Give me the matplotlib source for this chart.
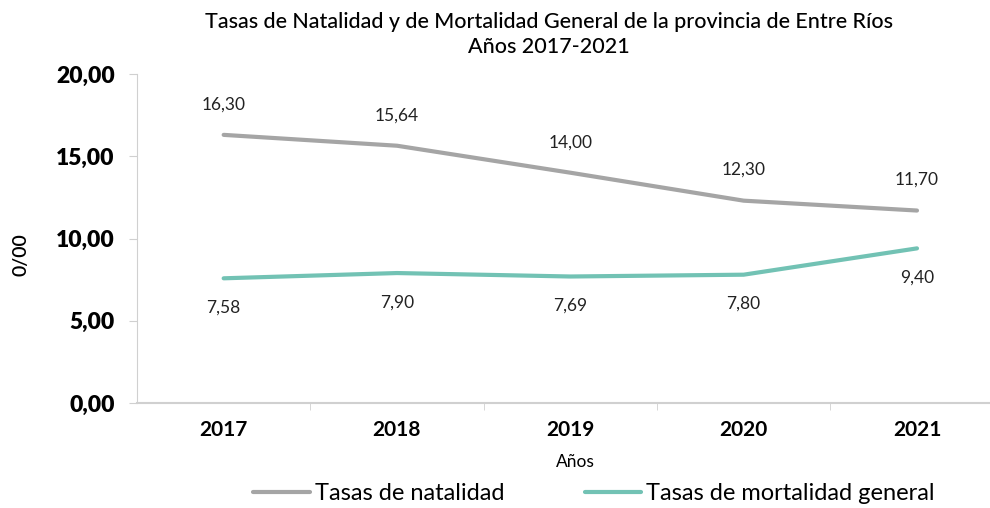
import matplotlib
matplotlib.use("Agg")
import matplotlib.pyplot as plt
from matplotlib import font_manager as fm

years = ["2017", "2018", "2019", "2020", "2021"]
natalidad = [16.30, 15.64, 14.00, 12.30, 11.70]
mortalidad = [7.58, 7.90, 7.69, 7.80, 9.40]
yticks = [0, 5, 10, 15, 20]

names = {f.name for f in fm.fontManager.ttflist}
base = "Lato" if "Lato" in names else "DejaVu Sans"
narrow = "Liberation Sans Narrow" if "Liberation Sans Narrow" in names else base
plt.rcParams['font.family'] = [base, "DejaVu Sans"]

GRAY = "#A5A5A5"
TEAL = "#72C2B4"

fig = plt.figure(figsize=(9.9, 5.08), dpi=100)
W, H = 990, 508
ax = fig.add_axes([137 / W, 1 - 403 / H, (990 - 137) / W, (403 - 74) / H])
x = list(range(len(years)))
ax.plot(x, natalidad, color=GRAY, lw=3, solid_capstyle="round", label="Tasas de natalidad")
ax.plot(x, mortalidad, color=TEAL, lw=3, solid_capstyle="round", label="Tasas de mortalidad general")

for i, v in enumerate(natalidad):
    ax.annotate(f"{v:.2f}".replace(".", ","), (i, v), xytext=(0, 22), textcoords="offset points",
                ha="center", va="center", fontsize=12.5, color="#222222")
for i, v in enumerate(mortalidad):
    ax.annotate(f"{v:.2f}".replace(".", ","), (i, v), xytext=(0, -21), textcoords="offset points",
                ha="center", va="center", fontsize=12.5, color="#222222")

ax.set_ylim(0, 20)
ax.set_xlim(-0.5, 4 + (990 - 917) / 173.3)
ax.set_yticks(yticks)
ax.set_yticklabels([f"{t:.2f}".replace(".", ",") for t in yticks], fontsize=16.5,
                   fontweight="heavy", family=[narrow, "DejaVu Sans"])
ax.set_xticks(x)
ax.set_xticklabels(years, fontsize=15, fontweight="bold")
ax.set_xticks([i + 0.5 for i in range(4)], minor=True)
ax.tick_params(axis="x", which="major", length=0, pad=12)
ax.tick_params(axis="x", which="minor", length=5, color="#D0D0D0")
ax.tick_params(axis="y", length=6, color="#D0D0D0", pad=10)
for s in ["top", "right"]:
    ax.spines[s].set_visible(False)
ax.spines["left"].set_color("#D0D0D0")
ax.spines["bottom"].set_color("#D0D0D0")
ax.spines["bottom"].set_linewidth(1.5)

fig.text(21 / W, 1 - 255 / H, "0/00", rotation=90, ha="center", va="center", fontsize=14,
         fontweight="semibold")
fig.text(575 / W, 1 - 462 / H, "Años", ha="center", va="center", fontsize=12.5)
fig.text(549 / W, 1 - 22 / H, "Tasas de Natalidad y de Mortalidad General de la provincia de Entre Ríos",
         ha="center", va="center", fontsize=15.5, fontweight="medium")
fig.text(549 / W, 1 - 47 / H, "Años 2017-2021", ha="center", va="center", fontsize=15.5,
         fontweight="medium")

leg = fig.legend(loc="center", bbox_to_anchor=(594 / W, 1 - 494 / H), ncol=2, frameon=False,
                 fontsize=17, handlelength=2.4, handletextpad=0.2, columnspacing=3.4)
fig.savefig("out.png", dpi=100)
